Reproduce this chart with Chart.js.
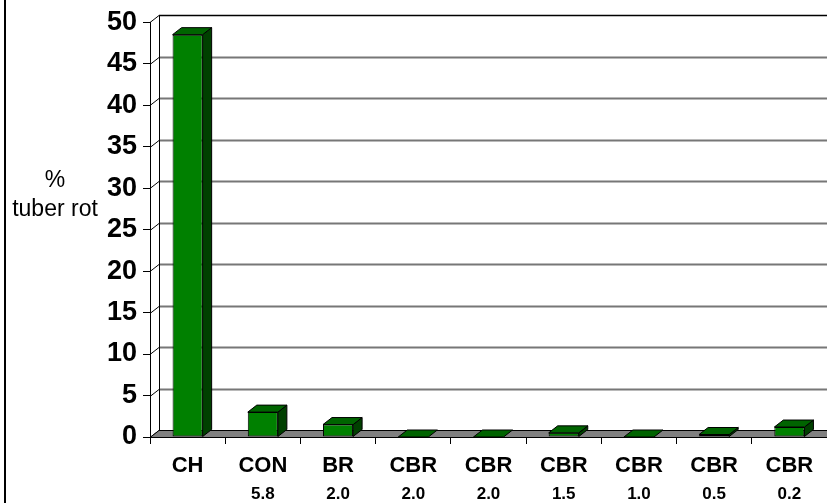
<!DOCTYPE html>
<html>
<head>
<meta charset="utf-8">
<script src="https://cdn.jsdelivr.net/npm/chart.js@4/dist/chart.umd.min.js"></script>
<style>
  html, body { margin: 0; padding: 0; background: #fff; }
  canvas { display: block; }
</style>
</head>
<body>
<canvas id="chart" width="827" height="503"></canvas>
<script>
const treatments = ['CH', 'CON', 'BR', 'CBR', 'CBR', 'CBR', 'CBR', 'CBR', 'CBR'];
const doses = ['', '5.8', '2.0', '2.0', '2.0', '1.5', '1.0', '0.5', '0.2'];
const tuberRot = [48.5, 3.0, 1.5, 0, 0, 0.5, 0, 0.3, 1.2];

const FONT = '"Liberation Sans", Arial, sans-serif';
const DX = 9, DY = -7; // depth offset of the 3D box

function poly(ctx, pts, fill) {
  ctx.beginPath();
  ctx.moveTo(pts[0][0], pts[0][1]);
  for (let i = 1; i < pts.length; i++) ctx.lineTo(pts[i][0], pts[i][1]);
  ctx.closePath();
  ctx.fillStyle = fill;
  ctx.fill();
  ctx.stroke();
}

const box3d = {
  id: 'box3d',
  beforeDraw(chart) {
    const { ctx, width, height } = chart;
    ctx.save();
    ctx.fillStyle = '#fff';
    ctx.fillRect(0, 0, width, height);
    ctx.fillStyle = '#000';
    ctx.fillRect(4, 0, 2, height);
    ctx.restore();
  },
  beforeDatasetsDraw(chart) {
    const { ctx, chartArea: a, scales: { y } } = chart;
    const w = chart.width;
    const bx = a.left + DX;
    ctx.save();
    // back wall grid + connectors to the front axis
    y.ticks.forEach(t => {
      const py = Math.round(y.getPixelForValue(t.value)) + 0.5;
      ctx.strokeStyle = '#000';
      ctx.lineWidth = 1;
      ctx.beginPath();
      ctx.moveTo(a.left, py);
      ctx.lineTo(bx, py + DY);
      ctx.stroke();
      if (t.value > 0) {
        ctx.strokeStyle = t.value === 50 ? '#000' : '#777';
        ctx.lineWidth = t.value === 50 ? 1.5 : 2;
        ctx.beginPath();
        ctx.moveTo(bx, py + DY);
        ctx.lineTo(w, py + DY);
        ctx.stroke();
      }
    });
    const yTop = Math.round(y.getPixelForValue(50)) + 0.5 + DY;
    const y0 = Math.round(y.getPixelForValue(0)) + 0.5;
    ctx.strokeStyle = '#000';
    ctx.lineWidth = 1;
    ctx.beginPath();
    ctx.moveTo(bx + 0.5, yTop);
    ctx.lineTo(bx + 0.5, y0 + DY);
    ctx.stroke();
    // floor
    poly(ctx, [[a.left, y0], [w + DX, y0], [w + DX, y0 + DY], [bx, y0 + DY]], '#808080');
    ctx.restore();
  },
  afterDatasetsDraw(chart) {
    const { ctx } = chart;
    const meta = chart.getDatasetMeta(0);
    ctx.save();
    ctx.strokeStyle = '#000';
    ctx.lineWidth = 1;
    meta.data.forEach(bar => {
      const { x, y, base, width } = bar.getProps(['x', 'y', 'base', 'width'], true);
      const x1 = x - width / 2, x2 = x + width / 2;
      if (base - y > 0.5) {
        poly(ctx, [[x2, y], [x2 + DX, y + DY], [x2 + DX, base + DY], [x2, base]], '#004000');
      }
      poly(ctx, [[x1, y], [x1 + DX, y + DY], [x2 + DX, y + DY], [x2, y]], '#006400');
    });
    ctx.restore();
  },
  afterDraw(chart) {
    const { ctx } = chart;
    ctx.save();
    ctx.fillStyle = '#000';
    ctx.font = '23px ' + FONT;
    ctx.textAlign = 'center';
    ctx.textBaseline = 'alphabetic';
    ctx.fillText('%', 55, 187);
    ctx.fillText('tuber rot', 55, 216);
    ctx.restore();
  }
};

new Chart(document.getElementById('chart'), {
  type: 'bar',
  data: {
    labels: treatments,
    datasets: [{
      data: tuberRot,
      xAxisID: 'x',
      yAxisID: 'y',
      backgroundColor: '#008000',
      borderColor: '#000',
      borderWidth: 1,
      borderSkipped: false,
      categoryPercentage: 1,
      barPercentage: 0.4
    }]
  },
  options: {
    responsive: false,
    animation: false,
    devicePixelRatio: 1,
    layout: { padding: { top: 17, right: 0, bottom: 0, left: 0 } },
    plugins: {
      legend: { display: false },
      tooltip: { enabled: false }
    },
    scales: {
      x: {
        type: 'category',
        labels: treatments,
        position: 'bottom',
        weight: 0,
        offset: true,
        grid: { offset: true, drawOnChartArea: false, drawTicks: true, tickLength: 7, color: '#000' },
        border: { display: true, color: '#000' },
        ticks: {
          color: '#000', padding: 9, maxRotation: 0, autoSkip: false,
          font: { family: FONT, size: 22, weight: 'bold' }
        },
        afterFit(s) { s.height = 38; }
      },
      x2: {
        type: 'category',
        labels: doses,
        position: 'bottom',
        weight: 1,
        offset: true,
        grid: { display: false, drawTicks: false },
        border: { display: false },
        ticks: {
          color: '#000', padding: 9, maxRotation: 0, autoSkip: false,
          font: { family: FONT, size: 17, weight: 'bold' }
        },
        afterFit(s) { s.height = 28; }
      },
      y: {
        min: 0,
        max: 50,
        grid: { drawOnChartArea: false, drawTicks: true, tickLength: 7, color: '#000' },
        border: { color: '#000' },
        ticks: {
          stepSize: 5, color: '#000', padding: 6,
          font: { family: FONT, size: 27, weight: 'bold' }
        },
        afterFit(s) { s.width = 150; }
      }
    }
  },
  plugins: [box3d]
});
</script>
</body>
</html>
